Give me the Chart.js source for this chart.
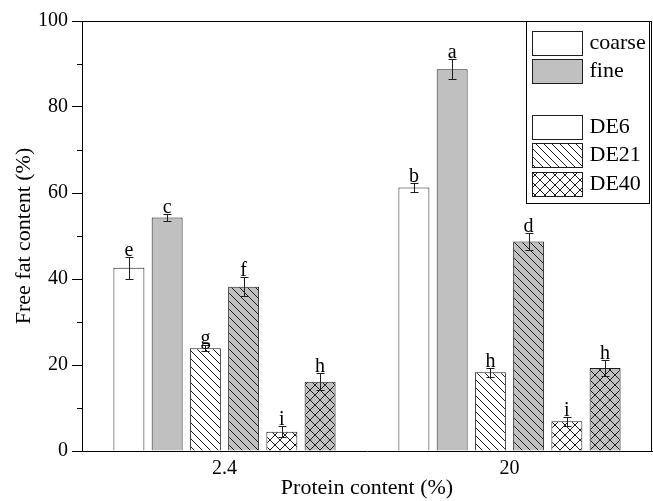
<!DOCTYPE html>
<html>
<head>
<meta charset="utf-8">
<script src="https://cdn.jsdelivr.net/npm/chart.js@4/dist/chart.umd.min.js"></script>
<style>
  html, body { margin: 0; padding: 0; background: #fff; }
  #wrap { width: 653px; height: 501px; }
</style>
</head>
<body>
<div id="wrap"><canvas id="c" width="653" height="501"></canvas></div>
<script>
// Protein levels on the x axis
const proteinLevels = ['2.4', '20'];

// Free fat content (%) for each DE level and particle size
const de6Coarse  = [42.6, 61.3];
const de6Fine    = [54.3, 88.8];
const de21Coarse = [23.9, 18.3];
const de21Fine   = [38.2, 48.7];
const de40Coarse = [4.5, 6.9];
const de40Fine   = [16.1, 19.3];

// Standard deviations
const de6CoarseErr  = [2.6, 1.1];
const de6FineErr    = [0.9, 2.3];
const de21CoarseErr = [0.7, 1.1];
const de21FineErr   = [2.2, 1.9];
const de40CoarseErr = [1.2, 1.0];
const de40FineErr   = [2.0, 1.9];

// Significance letters
const de6CoarseSig  = ['e', 'b'];
const de6FineSig    = ['c', 'a'];
const de21CoarseSig = ['g', 'h'];
const de21FineSig   = ['f', 'd'];
const de40CoarseSig = ['i', 'i'];
const de40FineSig   = ['h', 'h'];

// Legend entries (blank entry leaves a gap)
const legendLabels = ['coarse', 'fine', '', 'DE6', 'DE21', 'DE40'];

// Y axis tick values
const yMajorTicks = [0, 20, 40, 60, 80, 100];
const yMinorTicks = [10, 30, 50, 70, 90];

const SERIF = "'Liberation Serif', 'Times New Roman', serif";
const WHITE = '#ffffff';
const GRAY = '#c0c0c0';
const INK = '#1e1e1e';

function makePattern(bg, kind, size) {
  const cv = document.createElement('canvas');
  cv.width = size; cv.height = size;
  const g = cv.getContext('2d');
  g.fillStyle = bg;
  g.fillRect(0, 0, size, size);
  if (kind !== 'none') {
    g.fillStyle = INK;
    for (let i = 0; i < size; i++) {
      g.fillRect(i, i, 1, 1);
      if (kind === 'cross') g.fillRect(size - 1 - i, i, 1, 1);
    }
  }
  return g.createPattern(cv, 'repeat');
}

const fills = {
  de6c: WHITE,
  de6f: GRAY,
  de21c: makePattern(WHITE, 'back', 8),
  de21f: makePattern(GRAY, 'back', 8),
  de40c: makePattern(WHITE, 'cross', 10),
  de40f: makePattern(GRAY, 'cross', 10)
};

const legendFills = [WHITE, GRAY, null, WHITE, fills.de21c, fills.de40c];

function bar(label, data, err, sig, fill) {
  return {
    label, data, err, sig,
    backgroundColor: fill,
    borderColor: INK,
    borderWidth: 1,
    categoryPercentage: 0.805,
    barPercentage: 0.81
  };
}

const datasets = [
  bar('DE6 coarse',  de6Coarse,  de6CoarseErr,  de6CoarseSig,  fills.de6c),
  bar('DE6 fine',    de6Fine,    de6FineErr,    de6FineSig,    fills.de6f),
  bar('DE21 coarse', de21Coarse, de21CoarseErr, de21CoarseSig, fills.de21c),
  bar('DE21 fine',   de21Fine,   de21FineErr,   de21FineSig,   fills.de21f),
  bar('DE40 coarse', de40Coarse, de40CoarseErr, de40CoarseSig, fills.de40c),
  bar('DE40 fine',   de40Fine,   de40FineErr,   de40FineSig,   fills.de40f)
];

// Error bars, letters, minor ticks, frame and legend box
const decor = {
  id: 'decor',
  afterDatasetsDraw(chart) {
    const { ctx, chartArea: a, scales: { y } } = chart;
    ctx.save();
    ctx.strokeStyle = INK;
    ctx.lineWidth = 1;

    // error bars and letters
    chart.data.datasets.forEach((ds, di) => {
      const meta = chart.getDatasetMeta(di);
      meta.data.forEach((el, i) => {
        const v = ds.data[i], e = ds.err[i];
        const x = Math.round(el.x) + 0.5;
        const yt = Math.round(y.getPixelForValue(v + e)) + 0.5;
        const yb = Math.round(y.getPixelForValue(v - e)) + 0.5;
        ctx.beginPath();
        ctx.moveTo(x, yt); ctx.lineTo(x, yb);
        ctx.moveTo(x - 4, yt); ctx.lineTo(x + 4, yt);
        ctx.moveTo(x - 4, yb); ctx.lineTo(x + 4, yb);
        ctx.stroke();
        ctx.fillStyle = '#000';
        ctx.font = '20px ' + SERIF;
        ctx.textAlign = 'center';
        ctx.textBaseline = 'alphabetic';
        ctx.fillText(ds.sig[i], el.x, yt - 2);
      });
    });

    // minor ticks on the y axis
    ctx.strokeStyle = '#000';
    ctx.beginPath();
    yMinorTicks.forEach(v => {
      const py = Math.round(y.getPixelForValue(v)) + 0.5;
      ctx.moveTo(a.left - 5, py); ctx.lineTo(a.left, py);
    });
    // top and right frame
    ctx.moveTo(a.left, a.top + 0.5); ctx.lineTo(a.right, a.top + 0.5);
    ctx.moveTo(a.right - 0.5, a.top); ctx.lineTo(a.right - 0.5, a.bottom);
    ctx.stroke();

    // legend box
    const bx = a.left + 444.5, by = a.top + 0.5, bw = 123, bh = 182;
    ctx.fillStyle = '#fff';
    ctx.fillRect(bx, by, bw, bh);
    ctx.strokeRect(bx, by, bw, bh);
    ctx.font = '22px ' + SERIF;
    ctx.textAlign = 'left';
    ctx.textBaseline = 'middle';
    legendLabels.forEach((lab, i) => {
      if (!lab) return;
      const ry = Math.round(by + 9 + i * 28.2) + 0.5;
      ctx.fillStyle = legendFills[i];
      ctx.fillRect(bx + 6, ry, 50, 24);
      ctx.strokeStyle = INK;
      ctx.strokeRect(bx + 6, ry, 50, 24);
      ctx.fillStyle = '#000';
      ctx.fillText(lab, bx + 63, ry + 12);
    });
    ctx.restore();
  }
};

new Chart(document.getElementById('c'), {
  type: 'bar',
  data: { labels: proteinLevels, datasets },
  options: {
    responsive: false,
    devicePixelRatio: 1,
    animation: false,
    layout: { padding: { top: 21, right: 1, left: 0, bottom: 0 } },
    plugins: { legend: { display: false }, tooltip: { enabled: false } },
    scales: {
      x: {
        type: 'category',
        offset: true,
        grid: { display: false, drawTicks: false },
        border: { display: true, color: '#000', width: 1 },
        ticks: { color: '#000', font: { family: SERIF, size: 20 }, padding: 6 },
        title: {
          display: true, text: 'Protein content (%)', color: '#000',
          font: { family: SERIF, size: 22 }, padding: { top: 0, bottom: 0 }
        },
        afterFit(s) { s.height = 50; }
      },
      y: {
        min: 0, max: 100,
        afterBuildTicks(s) { s.ticks = yMajorTicks.map(v => ({ value: v })); },
        grid: { drawOnChartArea: false, drawTicks: true, tickLength: 10, tickColor: '#000' },
        border: { display: true, color: '#000', width: 1 },
        ticks: { color: '#000', font: { family: SERIF, size: 20 }, padding: 4 },
        title: {
          display: true, text: 'Free fat content (%)', color: '#000',
          font: { family: SERIF, size: 22 }, padding: { top: 11, bottom: 0 }
        },
        afterFit(s) { s.width = 82; }
      }
    }
  },
  plugins: [decor]
});
</script>
</body>
</html>
